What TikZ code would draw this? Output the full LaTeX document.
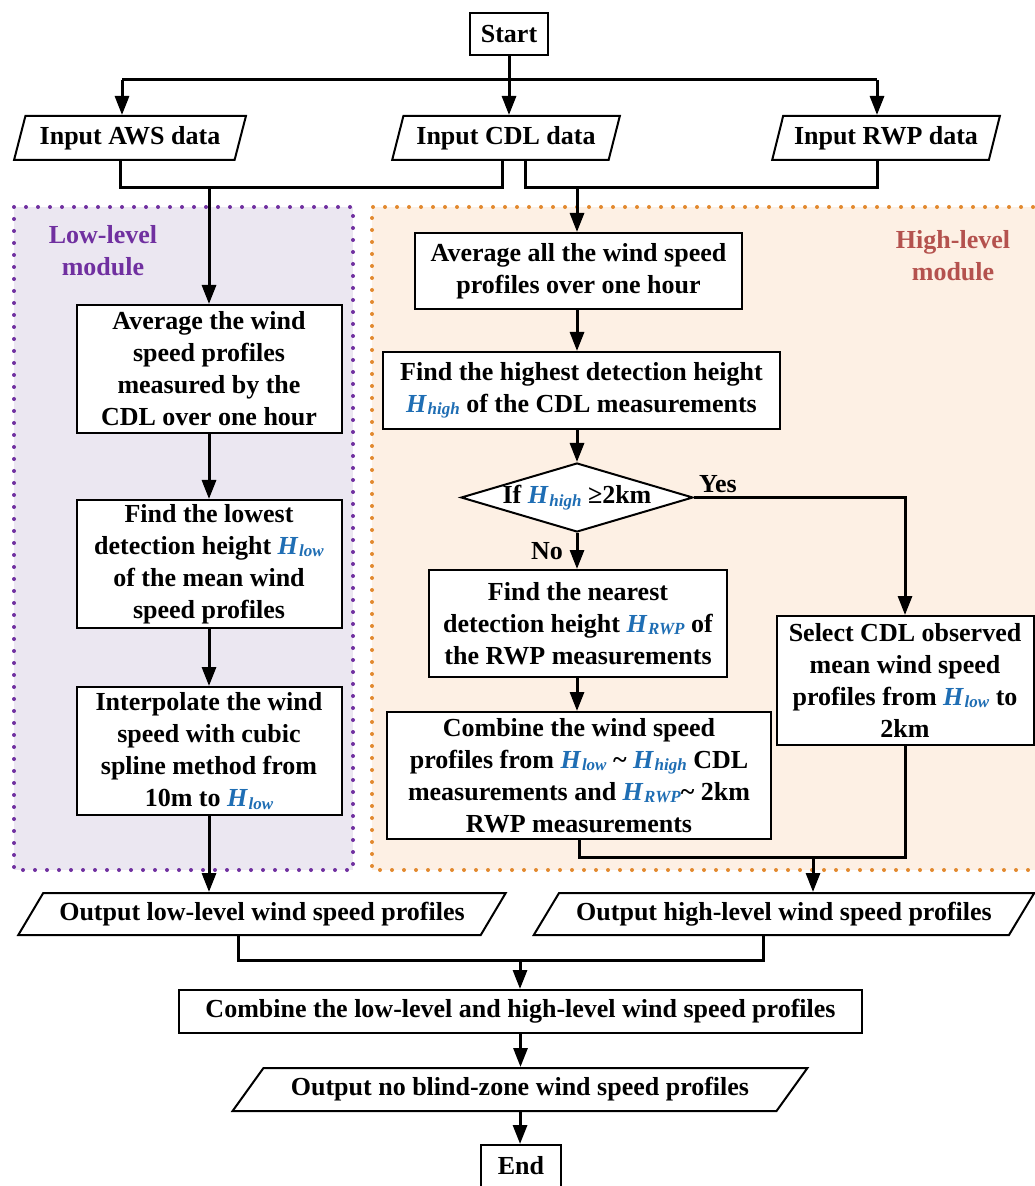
\documentclass[tikz,border=0pt]{standalone}
\usepackage{fontspec}
\setmainfont{Liberation Serif}
\usetikzlibrary{shapes.geometric,arrows.meta,calc}
\definecolor{hblue}{HTML}{1F6EB4}
\definecolor{lowfill}{HTML}{EBE7F1}
\definecolor{highfill}{HTML}{FDF0E4}
\definecolor{lowdot}{HTML}{7030A0}
\definecolor{highdot}{HTML}{E2892E}
\definecolor{hightxt}{HTML}{B4524E}
\newcommand\Hv[1]{{\color{hblue}\textit{H}\kern0.3pt\raisebox{-0.2ex}{\fontsize{8.5}{9}\selectfont\textit{#1}}}}
\tikzset{
  box/.style={draw, line width=1pt, fill=white, align=center, inner sep=2pt},
  io/.style={trapezium, trapezium left angle=#1, trapezium right angle={180-#1},
    trapezium stretches=true, draw, line width=1pt, fill=white, inner sep=1pt},
  conn/.style={line width=1.5pt},
  arr/.style={conn, -{Triangle[length=9.5pt,width=7pt]}},
  region/.style={line width=2pt, dash pattern=on 0pt off 6pt, line cap=round},
}
\begin{document}
\begin{tikzpicture}[x=0.5pt,y=-0.5pt, font=\fontsize{13}{16}\selectfont\bfseries]
\useasboundingbox (0,0) rectangle (1034,1186);
% regions
\fill[lowfill] (14,207) rectangle (353,870);
\draw[region, lowdot] (14,207) rectangle (353,870);
\fill[highfill] (372,207) rectangle (1045,870);
\draw[region, highdot] (1045,207) -- (372,207) -- (372,870) -- (1045,870);
\node[text=lowdot, align=center] (lowlbl) at (103,251) {Low-level\\module};
\node[text=hightxt, align=center] (highlbl) at (953,256) {High-level\\module};

% top
\node[box, minimum width=39pt, minimum height=21pt] (start) at (509,34) {Start};
\node[io=70, minimum width=116pt, minimum height=22pt] (aws) at (130,138) {Input AWS data};
\node[io=70, minimum width=114pt, minimum height=22pt] (cdl) at (506,138) {Input CDL data};
\node[io=70, minimum width=114pt, minimum height=22pt] (rwp) at (886,138) {Input RWP data};

% low-level
\node[box, minimum width=132.5pt, minimum height=64pt] (lb1) at (209,369)
  {Average the wind\\speed profiles\\measured by the\\CDL over one hour};
\node[box, minimum width=132.5pt, minimum height=64pt] (lb2) at (209,564)
  {Find the lowest\\detection height \Hv{low}\\of the mean wind\\speed profiles};
\node[box, minimum width=132.5pt, minimum height=64pt] (lb3) at (209,751)
  {Interpolate the wind\\speed with cubic\\spline method from\\10m to \Hv{low}};

% high-level
\node[box, minimum width=163.5pt, minimum height=38pt] (hb1) at (578.5,271)
  {Average all the wind speed\\profiles over one hour};
\node[box, minimum width=198.5pt, minimum height=38.5pt] (hb2) at (581.5,390.5)
  {Find the highest detection height\\\Hv{high} of the CDL measurements};
\node[diamond, draw, line width=1pt, fill=white, inner sep=0pt,
  minimum width=116pt, minimum height=34.5pt] (dia) at (577,497.5) {};
\node (diatxt) at (dia.center) {If \Hv{high} ≥2km};
\node[box, minimum width=149pt, minimum height=53.5pt] (hb3) at (578,623.5)
  {Find the nearest\\detection height \Hv{RWP} of\\the RWP measurements};
\node[box, minimum width=192pt, minimum height=63.5pt] (hb4) at (579,775.5)
  {Combine the wind speed\\profiles from \Hv{low} \textasciitilde{} \Hv{high} CDL\\measurements and \Hv{RWP}\textasciitilde{} 2km\\RWP measurements};
\node[box, minimum width=128.5pt, minimum height=64.5pt] (sel) at (905,680.5)
  {Select CDL observed\\mean wind speed\\profiles from \Hv{low} to\\2km};
\node (yes) at (718,484) {Yes};
\node (no) at (547,551) {No};

% outputs
\node[io=50, minimum width=244pt, minimum height=21pt] (outlow) at (262,914)
  {Output low-level wind speed profiles};
\node[io=50, minimum width=251pt, minimum height=21pt] (outhigh) at (784,914)
  {Output high-level wind speed profiles};
\node[box, minimum width=341.5pt, minimum height=21.5pt] (comb) at (520.5,1011.5)
  {Combine the low-level and high-level wind speed profiles};
\node[io=45, minimum width=287.5pt, minimum height=21.5pt] (outnb) at (520,1089.5)
  {Output no blind-zone wind speed profiles};
\node[box, minimum width=40pt, minimum height=21pt] (end) at (521,1166) {End};

% coordinates
\coordinate (sj) at (509,80);
\coordinate (a1) at (122,80);
\coordinate (a3) at (877,80);
\coordinate (m1) at (209,188);
\coordinate (m2) at (577,188);
\coordinate (m3) at (813,857);
\coordinate (m4) at (520,960);

% connectors top
\draw[conn] (a1) -- (a3);
\draw[arr] (start.south) -- (start.south |- cdl.north);
\draw[arr] (a1) -- (a1 |- aws.north);
\draw[arr] (a3) -- (a3 |- rwp.north);
\draw[conn] ([xshift=-5pt]aws.south) |- (m1) -| ([xshift=-2pt]cdl.south);
\draw[conn] ([xshift=9.5pt]cdl.south) |- (m2) -| ([xshift=-4.5pt]rwp.south);
\draw[arr] (m1) -- (m1 |- lb1.north);
\draw[arr] (m2) -- (m2 |- hb1.north);

% low chain
\draw[arr] (lb1) -- (lb2);
\draw[arr] (lb2) -- (lb3);
\draw[arr] (lb3.south) -- (lb3.south |- outlow.north);

% high chain
\draw[arr] (m2 |- hb1.south) -- (m2 |- hb2.north);
\draw[arr] (m2 |- hb2.south) -- (dia.north);
\draw[arr] (dia.south) -- (dia.south |- hb3.north);
\draw[arr] (dia.east) -| (sel.north);
\draw[arr] (m2 |- hb3.south) -- (m2 |- hb4.north);
\draw[conn] (hb4.south) |- (m3) -| (sel.south);
\draw[arr] (m3) -- (m3 |- outhigh.north);

% bottom
\draw[conn] ([xshift=-12pt]outlow.south) |- (m4) -| ([xshift=-10.5pt]outhigh.south);
\draw[arr] (m4) -- (m4 |- comb.north);
\draw[arr] (comb.south) -- (comb.south |- outnb.north);
\draw[arr] (outnb.south) -- (outnb.south |- end.north);
\end{tikzpicture}
\end{document}
